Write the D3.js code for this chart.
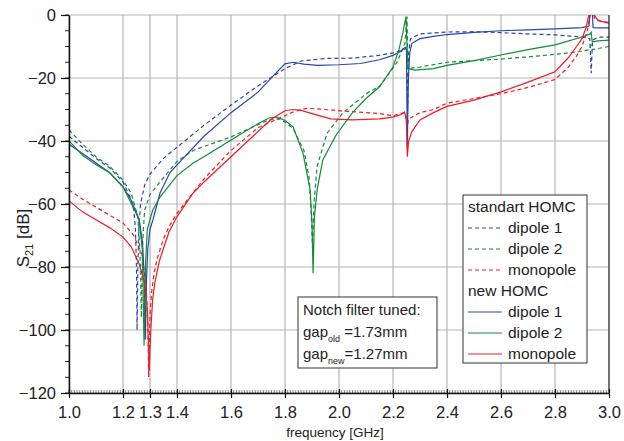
<!DOCTYPE html>
<html>
<head>
<meta charset="utf-8">
<script src="https://cdn.jsdelivr.net/npm/d3@7"></script>
<style>
  body { margin: 0; background: #fff; }
  svg { font-family: "Liberation Sans", Arial, sans-serif; }
</style>
</head>
<body>
<svg id="chart" width="624" height="441"></svg>
<script>
// axis ticks
const xTicks = [1.0, 1.2, 1.3, 1.4, 1.6, 1.8, 2.0, 2.2, 2.4, 2.6, 2.8, 3.0];
const yTicks = [-120, -100, -80, -60, -40, -20, 0];

// standart HOMC (dashed), [frequency GHz, S21 dB]
const dipole1Old = [[1.0,-38.5],[1.05,-42],[1.1,-45.5],[1.15,-48.5],[1.2,-53],[1.23,-58.5],[1.24,-62],[1.246,-68],[1.25,-80],[1.252,-100],[1.255,-80],[1.259,-67],[1.265,-60],[1.28,-54],[1.3,-50.5],[1.35,-45.5],[1.4,-42],[1.5,-35],[1.6,-28.6],[1.7,-22.5],[1.8,-17],[1.86,-14.6],[1.95,-13.8],[2.05,-13.7],[2.15,-12.8],[2.2,-12],[2.24,-11],[2.25,-10.5],[2.254,-30],[2.258,-12],[2.265,-7.5],[2.3,-6],[2.4,-5.4],[2.5,-5.3],[2.6,-5.6],[2.7,-6],[2.8,-6.3],[2.9,-7],[2.929,-7.5],[2.934,-18.5],[2.939,-8],[2.96,-7],[3.0,-7]];
const dipole2Old = [[1.0,-36.5],[1.05,-41],[1.1,-45],[1.15,-48],[1.2,-52.4],[1.23,-56.5],[1.255,-64],[1.263,-75],[1.268,-96],[1.273,-72],[1.28,-62],[1.3,-57],[1.337,-53],[1.4,-46.5],[1.46,-43],[1.6,-38.7],[1.74,-33.3],[1.78,-33],[1.8,-34],[1.83,-36],[1.87,-43],[1.89,-52],[1.897,-63],[1.902,-74],[1.907,-60],[1.919,-48],[1.956,-37.5],[2.015,-31],[2.104,-24.8],[2.152,-22.5],[2.215,-15],[2.244,-9],[2.252,-0.5],[2.255,-17],[2.3,-16.5],[2.4,-15],[2.5,-14.5],[2.6,-14],[2.7,-13.3],[2.8,-12.5],[2.9,-11.5],[2.928,-11],[2.933,-9.5],[2.938,-11],[3.0,-10]];
const monopoleOld = [[1.0,-55.5],[1.05,-58.5],[1.1,-61],[1.15,-63.5],[1.2,-66],[1.24,-70],[1.27,-76],[1.285,-85],[1.292,-98],[1.295,-115],[1.3,-95],[1.306,-88],[1.315,-82],[1.326,-77.5],[1.35,-71],[1.375,-66.5],[1.4,-63],[1.44,-58.5],[1.5,-52],[1.6,-43],[1.7,-35.8],[1.78,-32.7],[1.83,-30.8],[1.88,-29.6],[1.95,-30],[2.05,-30.7],[2.15,-31.3],[2.2,-32],[2.24,-31],[2.247,-31.5],[2.252,-35.5],[2.258,-33],[2.3,-31],[2.35,-30],[2.4,-28],[2.5,-26.5],[2.6,-25],[2.7,-23],[2.8,-20.5],[2.85,-16.5],[2.88,-13],[2.9,-10],[2.92,-5],[2.93,0],[2.938,4],[2.946,-1],[2.97,-2],[3.0,-2.4]];

// new HOMC (solid)
const dipole1New = [[1.0,-41],[1.05,-44],[1.1,-47],[1.15,-50],[1.2,-54.5],[1.23,-58.7],[1.26,-65],[1.272,-72],[1.278,-82],[1.283,-103],[1.287,-84],[1.292,-74],[1.3,-68],[1.311,-65],[1.337,-56.5],[1.374,-50],[1.4,-47.6],[1.5,-38.5],[1.6,-31],[1.7,-24.5],[1.76,-19],[1.8,-15.5],[1.83,-15],[1.87,-15.6],[1.92,-16],[2.0,-15.8],[2.08,-15.4],[2.15,-14.2],[2.2,-12.8],[2.23,-11.5],[2.245,-10.2],[2.25,-11],[2.253,-42],[2.257,-20],[2.262,-12],[2.27,-9],[2.3,-7.5],[2.35,-6.8],[2.4,-6.2],[2.5,-5.5],[2.6,-5],[2.7,-4.7],[2.8,-4.4],[2.9,-4],[2.926,-3.5],[2.932,3],[2.937,3],[2.941,-4],[2.96,-4.1],[3.0,-4.1]];
const dipole2New = [[1.0,-40],[1.05,-44.5],[1.1,-47.5],[1.15,-50],[1.2,-54.6],[1.23,-59.7],[1.26,-65],[1.272,-75],[1.278,-105],[1.284,-78],[1.29,-68],[1.31,-62],[1.337,-57.8],[1.4,-51],[1.46,-47],[1.5,-45],[1.6,-39.7],[1.7,-34.5],[1.74,-32.7],[1.77,-32.4],[1.8,-33.5],[1.83,-35.5],[1.867,-44],[1.893,-55.5],[1.9,-66],[1.904,-82],[1.909,-64],[1.919,-55.5],[1.94,-46],[1.99,-38],[2.05,-31],[2.1,-26.5],[2.15,-22.8],[2.2,-16.5],[2.222,-11],[2.236,-5.8],[2.248,-0.5],[2.252,-10],[2.256,-17],[2.28,-17.5],[2.35,-17],[2.4,-16],[2.5,-14.5],[2.6,-12.7],[2.7,-11],[2.8,-9.5],[2.9,-7],[2.93,-6],[2.934,-5.5],[2.938,-8.5],[2.96,-8.2],[3.0,-8]];
const monopoleNew = [[1.0,-59],[1.05,-62.5],[1.1,-65],[1.15,-67.5],[1.2,-70.5],[1.23,-73.5],[1.26,-79],[1.28,-85],[1.29,-93],[1.297,-113],[1.303,-100],[1.31,-90],[1.318,-85],[1.335,-78],[1.348,-74.6],[1.37,-69],[1.4,-64],[1.46,-56.5],[1.5,-53],[1.6,-45],[1.7,-37],[1.75,-33],[1.8,-30.4],[1.83,-30],[1.86,-30.3],[1.9,-31.3],[1.97,-33],[2.05,-33.3],[2.15,-33],[2.2,-32.4],[2.23,-31.6],[2.243,-30.8],[2.249,-33],[2.253,-45],[2.258,-40],[2.27,-37],[2.3,-33.3],[2.35,-31],[2.4,-29],[2.5,-27],[2.6,-24.4],[2.7,-21.3],[2.8,-18],[2.85,-13.5],[2.88,-10],[2.9,-7.5],[2.915,-4],[2.925,0],[2.935,4],[2.945,0],[2.96,-1.8],[3.0,-2.6]];

const colors = { blue: "#2a47a8", green: "#138a3c", red: "#ec1c24" };

const series = [
  { data: dipole1Old, color: colors.blue, dashed: true },
  { data: dipole2Old, color: colors.green, dashed: true },
  { data: monopoleOld, color: colors.red, dashed: true },
  { data: dipole1New, color: colors.blue, dashed: false },
  { data: dipole2New, color: colors.green, dashed: false },
  { data: monopoleNew, color: colors.red, dashed: false }
];

const legendRows = [
  { label: "standart HOMC" },
  { label: "dipole 1", color: colors.blue, dashed: true },
  { label: "dipole 2", color: colors.green, dashed: true },
  { label: "monopole", color: colors.red, dashed: true },
  { label: "new HOMC" },
  { label: "dipole 1", color: colors.blue, dashed: false },
  { label: "dipole 2", color: colors.green, dashed: false },
  { label: "monopole", color: colors.red, dashed: false }
];

const svg = d3.select("#chart");
const margin = { left: 69, top: 15, right: 15, bottom: 48 };
const width = 624 - margin.left - margin.right;
const height = 441 - margin.top - margin.bottom;

const x = d3.scaleLinear().domain([1.0, 3.0]).range([0, width]);
const y = d3.scaleLinear().domain([-120, 0]).range([height, 0]);

const g = svg.append("g").attr("transform", `translate(${margin.left},${margin.top})`);

svg.append("defs").append("clipPath").attr("id", "plot-clip")
  .append("rect").attr("width", width).attr("height", height);

// grid
g.append("g").selectAll("line").data(xTicks).enter().append("line")
  .attr("x1", d => x(d)).attr("x2", d => x(d))
  .attr("y1", 0).attr("y2", height)
  .attr("stroke", "#b4b4b4").attr("stroke-width", 1.2);
g.append("g").selectAll("line").data(yTicks).enter().append("line")
  .attr("x1", 0).attr("x2", width)
  .attr("y1", d => y(d)).attr("y2", d => y(d))
  .attr("stroke", "#b4b4b4").attr("stroke-width", 1.2);

// curves
const line = d3.line().x(d => x(d[0])).y(d => y(d[1]));
const curves = g.append("g").attr("clip-path", "url(#plot-clip)");
series.forEach(s => {
  curves.append("path")
    .datum(s.data)
    .attr("d", line)
    .attr("fill", "none")
    .attr("stroke", s.color)
    .attr("stroke-width", 1.2)
    .attr("stroke-dasharray", s.dashed ? "4,3" : null);
});

// right border
g.append("line").attr("x1", width).attr("x2", width).attr("y1", 0).attr("y2", height)
  .attr("stroke", "#333").attr("stroke-width", 1.2);

// minor ticks
const xMinor = d3.range(100, 301).map(v => v / 100);
g.append("g").selectAll("line").data(xMinor).enter().append("line")
  .attr("x1", d => x(d)).attr("x2", d => x(d))
  .attr("y1", height).attr("y2", height - 3)
  .attr("stroke", "#333").attr("stroke-width", 0.6);
const yMinor = d3.range(-120, 1, 5);
g.append("g").selectAll("line").data(yMinor).enter().append("line")
  .attr("x1", -4).attr("x2", 0)
  .attr("y1", d => y(d)).attr("y2", d => y(d))
  .attr("stroke", "#222").attr("stroke-width", 1);

// axes
const xAxis = g.append("g").attr("transform", `translate(0,${height})`)
  .call(d3.axisBottom(x).tickValues(xTicks).tickFormat(d3.format(".1f")).tickSizeInner(5).tickSizeOuter(0).tickPadding(8));
const yAxis = g.append("g")
  .call(d3.axisLeft(y).tickValues(yTicks).tickSizeInner(8).tickSizeOuter(0).tickPadding(5));
[xAxis, yAxis].forEach(a => {
  a.select(".domain").attr("stroke", "#111").attr("stroke-width", 1.5);
  a.selectAll(".tick line").attr("stroke", "#111").attr("stroke-width", 1.2);
  a.selectAll("text").attr("font-size", 16.5).attr("fill", "#222").style("font-family", "Liberation Sans, Arial, sans-serif");
});
xAxis.selectAll(".tick").append("line").attr("y1", 0).attr("y2", -4).attr("stroke", "#111").attr("stroke-width", 1.2);

// axis titles
svg.append("text").attr("x", 335).attr("y", 437).attr("text-anchor", "middle")
  .attr("font-size", 13.5).attr("fill", "#222").text("frequency [GHz]");
const yt = svg.append("text").attr("transform", "translate(29,238) rotate(-90)")
  .attr("text-anchor", "middle").attr("font-size", 17).attr("fill", "#222");
yt.append("tspan").text("S");
yt.append("tspan").attr("font-size", 11).attr("dy", 4).text("21");
yt.append("tspan").attr("dy", -4).text(" [dB]");

// legend
const lg = svg.append("g").attr("transform", "translate(463,195)");
lg.append("rect").attr("width", 124).attr("height", 168)
  .attr("fill", "#fff").attr("stroke", "#333").attr("stroke-width", 1);
legendRows.forEach((r, i) => {
  const cy = 12 + i * 21;
  if (r.color) {
    lg.append("line").attr("x1", 5).attr("x2", 39).attr("y1", cy).attr("y2", cy)
      .attr("stroke", r.color).attr("stroke-width", 1.2)
      .attr("stroke-dasharray", r.dashed ? "4,3" : null);
    lg.append("text").attr("x", 45).attr("y", cy + 5).attr("font-size", 15.5).attr("fill", "#222").text(r.label);
  } else {
    lg.append("text").attr("x", 5).attr("y", cy + 5).attr("font-size", 15.5).attr("fill", "#222").text(r.label);
  }
});

// notch filter note
const nb = svg.append("g").attr("transform", "translate(298,297)");
nb.append("rect").attr("width", 139).attr("height", 71)
  .attr("fill", "#fff").attr("stroke", "#333").attr("stroke-width", 1);
nb.append("text").attr("x", 5).attr("y", 18).attr("font-size", 15).attr("fill", "#222").text("Notch filter tuned:");
const t1 = nb.append("text").attr("x", 5).attr("y", 40).attr("font-size", 15).attr("fill", "#222");
t1.append("tspan").text("gap");
t1.append("tspan").attr("font-size", 9).attr("dy", 5).text("old");
t1.append("tspan").attr("dy", -5).text(" =1.73mm");
const t2 = nb.append("text").attr("x", 5).attr("y", 62).attr("font-size", 15).attr("fill", "#222");
t2.append("tspan").text("gap");
t2.append("tspan").attr("font-size", 9).attr("dy", 5).text("new");
t2.append("tspan").attr("dy", -5).text("=1.27mm");
</script>
</body>
</html>
